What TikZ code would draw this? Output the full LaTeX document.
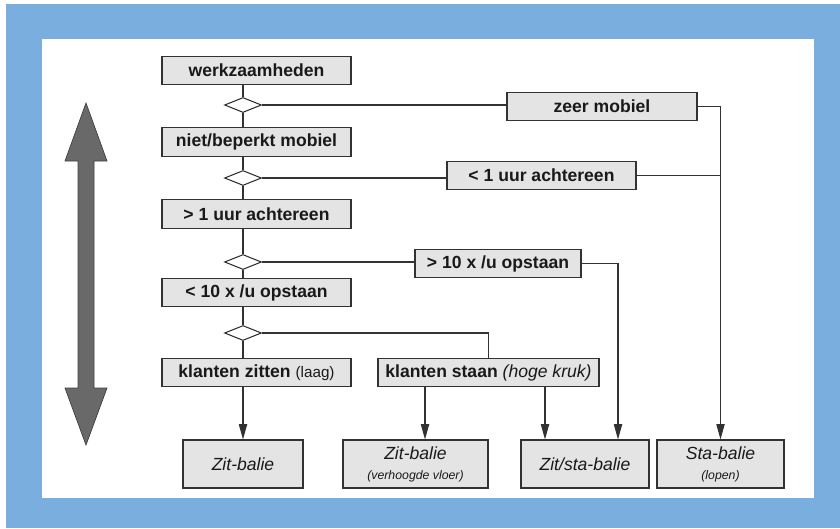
\documentclass[tikz,border=0pt]{standalone}
\usepackage{fontspec}
\setmainfont{Liberation Sans}
\usetikzlibrary{arrows.meta,calc,shapes.geometric}
\definecolor{frameblue}{RGB}{122,174,222}
\definecolor{boxgray}{RGB}{228,228,228}
\definecolor{linegray}{RGB}{50,50,50}
\definecolor{arrowgray}{RGB}{105,105,105}
\newcommand{\klein}{\fontsize{10.5}{12}\selectfont\itshape}

\begin{document}
\begin{tikzpicture}[x=0.03cm,y=-0.03cm,
  lijn/.style={draw=linegray,line width=0.9pt},
  pijl/.style={lijn,-{Triangle[width=7pt,length=13pt]}},
  box/.style={lijn,fill=boxgray,minimum width=5.67cm,minimum height=0.86cm,
    inner sep=0pt,text=black!90,font=\fontsize{15}{17}\selectfont\bfseries},
  eind/.style={lijn,fill=boxgray,minimum height=1.44cm,inner sep=0pt,align=center,
    text=black!90,font=\fontsize{15}{17}\selectfont\itshape},
  keuze/.style={diamond,lijn,fill=white,minimum width=1.11cm,minimum height=0.45cm,
    aspect=2.4,inner sep=0pt}]

\useasboundingbox (0,0) rectangle (840,528);
\fill[white] (0,0) rectangle (840,528);
\fill[frameblue] (6,4) rectangle (840,528);
\fill[white] (42,39) rectangle (814,498);

% hoofdlijn
\node[box] (werk) at (256.5,70.5) {werkzaamheden};
\node[keuze] (d1) at (243,105) {};
\node[box] (niet) at (256.5,142) {niet/beperkt mobiel};
\node[keuze] (d2) at (243,178) {};
\node[box] (meer) at (256.5,214) {> 1 uur achtereen};
\node[keuze] (d3) at (243,262) {};
\node[box] (minder) at (256.5,292.5) {< 10 x /u opstaan};
\node[keuze] (d4) at (243,333) {};
\node[box] (klzit) at (256.5,372.5) {klanten zitten {\mdseries\fontsize{13}{15}\selectfont (laag)}};
\node[box,minimum width=6.63cm] (klstaan) at (488.5,372.5) {klanten staan {\mdseries\itshape (hoge kruk)}};

% zijtakken
\node[box,minimum width=5.7cm] (zeer) at (602,106.5) {zeer mobiel};
\node[box] (kort) at (541.5,175.5) {< 1 uur achtereen};
\node[box,minimum width=4.98cm] (vaak) at (498,263.5) {> 10 x /u opstaan};

% balies
\node[eind,minimum width=3.6cm] (zb) at (243,464) {Zit-balie};
\node[eind,minimum width=4.35cm] (zbv) at (415.5,464) {Zit-balie\\{\klein (verhoogde vloer)}};
\node[eind,minimum width=3.84cm] (zsb) at (585,464) {Zit/sta-balie};
\node[eind,minimum width=3.81cm] (sb) at (720.5,464) {Sta-balie\\{\klein (lopen)}};

\coordinate (vk) at (618,0);
\coordinate (ks1) at (425,0);
\coordinate (ks2) at (545,0);

\draw[lijn] (werk.south -| d1) -- (d1.north);
\draw[lijn] (d1.south) -- (d1 |- niet.north);
\draw[lijn] (niet.south -| d2) -- (d2.north);
\draw[lijn] (d2.south) -- (d2 |- meer.north);
\draw[lijn] (meer.south -| d3) -- (d3.north);
\draw[lijn] (d3.south) -- (d3 |- minder.north);
\draw[lijn] (minder.south -| d4) -- (d4.north);
\draw[lijn] (d4.south) -- (d4 |- klzit.north);

\draw[lijn] (d1.east) -- (d1.east -| zeer.west);
\draw[pijl] (zeer.east) -| (sb.north);
\draw[lijn] (d2.east) -- (d2.east -| kort.west);
\draw[lijn] (kort.east) -- (kort.east -| sb.north);
\draw[lijn] (d3.east) -- (d3.east -| vaak.west);
\draw[pijl] (vaak.east) -| (vk |- zsb.north);
\draw[lijn] (d4.east) -| (klstaan.north);

\draw[pijl] (klzit.south -| zb.north) -- (zb.north);
\draw[pijl] (ks1 |- klstaan.south) -- (ks1 |- zbv.north);
\draw[pijl] (ks2 |- klstaan.south) -- (ks2 |- zsb.north);

% pijl links
\draw[draw=black!75,fill=arrowgray,line width=0.6pt] (86,103) -- (107,161) -- (94,161)
  -- (94,388) -- (107,388) -- (86,445) -- (65,388) -- (78,388) -- (78,161) -- (65,161) -- cycle;

\end{tikzpicture}
\end{document}
